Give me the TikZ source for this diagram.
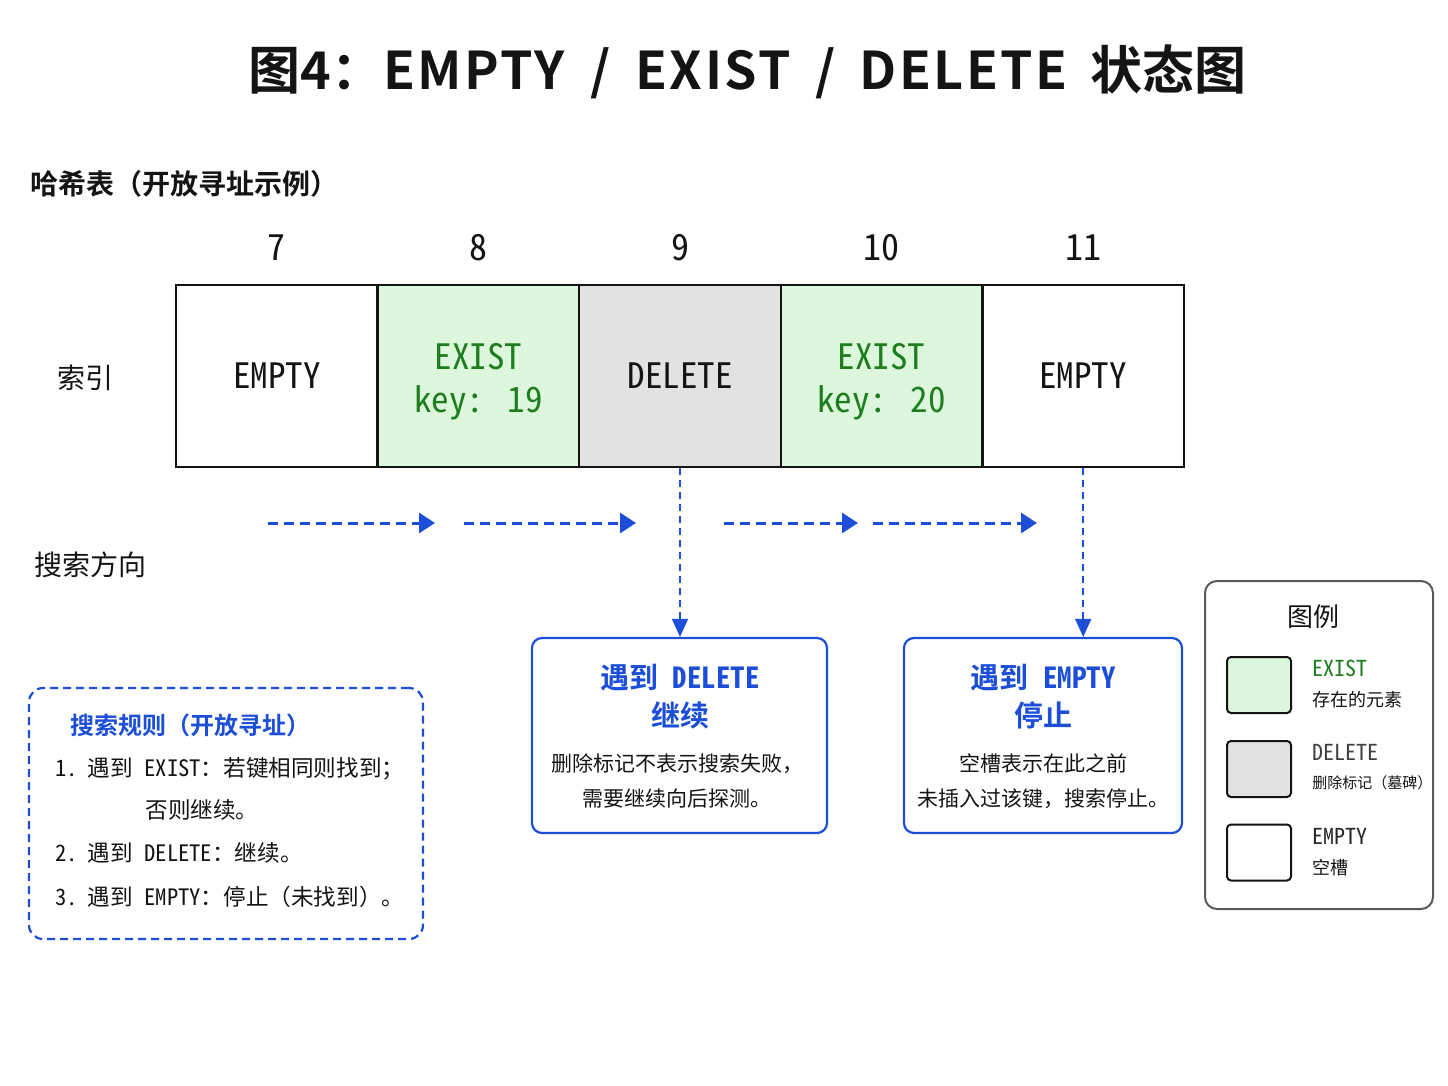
\documentclass[tikz,border=0pt]{standalone}
\usepackage{fontspec}
\setmainfont{Noto Sans CJK SC}
\newfontfamily\cjkbold{Noto Sans CJK SC Bold}
\newfontfamily\monof{Noto Sans Mono CJK SC}[BoldFont={Noto Sans Mono CJK SC Bold}]
\usetikzlibrary{arrows.meta}
\definecolor{bluem}{RGB}{28,78,216}
\definecolor{greent}{RGB}{30,125,30}
\definecolor{greenf}{RGB}{221,247,220}
\definecolor{grayf}{RGB}{226,226,226}
\definecolor{legb}{RGB}{90,90,90}
\definecolor{ink}{RGB}{20,20,20}
\begin{document}
\begin{tikzpicture}[x=0.5pt,y=-0.5pt,
  every node/.style={inner sep=0pt, text=ink},
  cell/.style={draw=ink, line width=1.2pt, minimum width=100.8pt, minimum height=91pt,
    font=\monof\fontsize{17.5}{21.5}\selectfont, align=center},
  celltext/.style={font=\monof\fontsize{17.5}{21.5}\selectfont, align=center, text=greent},
  idx/.style={font=\monof\fontsize{18}{22}\selectfont},
  flow/.style={draw=bluem, line width=1.5pt, dash pattern=on 5pt off 3pt,
    -{Triangle[length=8pt,width=10pt]}},
  drop/.style={draw=bluem, line width=0.8pt, dash pattern=on 3.5pt off 2.5pt,
    -{Triangle[length=9pt,width=8pt]}},
  infobox/.style={draw=bluem, line width=1.1pt, rounded corners=5pt, fill=white},
  boxtitle/.style={font=\monof\bfseries\fontsize{14.5}{19}\selectfont, text=bluem, align=center},
  boxbody/.style={font=\monof\fontsize{10.5}{17.5}\selectfont, align=center},
  ruleitem/.style={font=\monof\fontsize{11.3}{14}\selectfont, anchor=west},
  swatch/.style={draw=ink, line width=1pt, rounded corners=2pt, minimum width=32pt, minimum height=28pt},
  leglat/.style={font=\monof\fontsize{11}{13}\selectfont, anchor=west},
  legcjk/.style={font=\monof\fontsize{9}{11}\selectfont, anchor=west}
]
\useasboundingbox (0,0) rectangle (1448,1086);

% title
\node[font=\cjkbold\fontsize{26}{30}\selectfont, anchor=west] (title) at (248,72)
  {图4：{\addfontfeatures{LetterSpace=5}EMPTY\hspace{12.5pt}/\hspace{12.5pt}EXIST\hspace{12pt}/\hspace{12pt}DELETE}\hspace{11.5pt}状态图};
\node[font=\cjkbold\fontsize{14}{16}\selectfont, anchor=west] (heading) at (30,184) {哈希表（开放寻址示例）};

% index numbers
\node[idx] (i7) at (276.8,248) {7};
\node[idx] (i8) at (478.4,248) {8};
\node[idx] (i9) at (680,248) {9};
\node[idx] (i10) at (881.6,248) {10};
\node[idx] (i11) at (1083.2,248) {11};

% cells
\node[cell, fill=white] (c7) at (276.8,376) {EMPTY};
\node[cell, fill=greenf] (c8) at (478.4,376) {};
\node[celltext, yshift=-3pt] (t8) at (c8.center) {EXIST\\key: 19};
\node[cell, fill=grayf] (c9) at (680,376) {DELETE};
\node[cell, fill=greenf] (c10) at (881.6,376) {};
\node[celltext, yshift=-3pt] (t10) at (c10.center) {EXIST\\key: 20};
\node[cell, fill=white] (c11) at (1083.2,376) {EMPTY};

\node[font=\fontsize{14}{17}\selectfont] (suoyin) at (85,378) {索引};
\node[font=\fontsize{14}{17}\selectfont] (search) at (90,565) {搜索方向};

% search direction arrows
\coordinate (a1s) at (268,523); \coordinate (a1e) at (435,523);
\coordinate (a2s) at (464,523); \coordinate (a2e) at (636,523);
\coordinate (a3s) at (724,523); \coordinate (a3e) at (858,523);
\coordinate (a4s) at (873,523); \coordinate (a4e) at (1037,523);
\draw[flow] (a1s) -- (a1e);
\draw[flow] (a2s) -- (a2e);
\draw[flow] (a3s) -- (a3e);
\draw[flow] (a4s) -- (a4e);

% explanation boxes
\node[infobox, minimum width=147.5pt, minimum height=97.5pt] (bdel) at (679.5,735.5) {};
\node[boxtitle] (bdelt) at (680,697) {遇到 DELETE\\继续};
\node[boxbody] (bdelb) at (677,781) {删除标记不表示搜索失败，\\需要继续向后探测。};

\node[infobox, minimum width=139pt, minimum height=97.5pt] (bemp) at (1043,735.5) {};
\node[boxtitle] (bempt) at (1043,697) {遇到 EMPTY\\停止};
\node[boxbody] (bempb) at (1043,781) {空槽表示在此之前\\未插入过该键，搜索停止。};

\draw[drop] (c9.south) -- (bdel.north -| c9.south);
\draw[drop] (c11.south) -- (bemp.north -| c11.south);

% rules box
\node[draw=bluem, line width=1.1pt, dash pattern=on 4pt off 2.5pt, rounded corners=7pt,
  minimum width=197pt, minimum height=125.5pt] (rules) at (226,813.5) {};
\node[ruleitem, font=\monof\bfseries\fontsize{12}{14}\selectfont, text=bluem] (rt) at (70,725) {搜索规则（开放寻址）};
\node[ruleitem] (r1) at (55,769) {1.\hspace{5pt}遇到 EXIST：若键相同则找到；};
\node[ruleitem] (r1b) at (145,810) {否则继续。};
\node[ruleitem] (r2) at (55,853) {2.\hspace{5pt}遇到 DELETE：继续。};
\node[ruleitem] (r3) at (55,897) {3.\hspace{5pt}遇到 EMPTY：停止（未找到）。};

% legend
\node[draw=legb, line width=1pt, rounded corners=6pt, minimum width=114pt, minimum height=164pt] (legend) at (1319,745) {};
\node[font=\fontsize{13}{15}\selectfont] (legt) at (1313,617) {图例};
\node[swatch, fill=greenf] (s1) at (1259,685) {};
\node[swatch, fill=grayf] (s2) at (1259,769) {};
\node[swatch, fill=white] (s3) at (1259,852.5) {};
\node[leglat, text=greent] (l1a) at (1312,668) {EXIST};
\node[legcjk] (l1b) at (1312,700) {存在的元素};
\node[leglat, text=black!75] (l2a) at (1312,752) {DELETE};
\node[legcjk, font=\monof\fontsize{7.5}{10}\selectfont] (l2b) at (1312,783) {删除标记（墓碑）};
\node[leglat, text=black!85] (l3a) at (1312,836) {EMPTY};
\node[legcjk] (l3b) at (1312,868) {空槽};
\end{tikzpicture}
\end{document}
